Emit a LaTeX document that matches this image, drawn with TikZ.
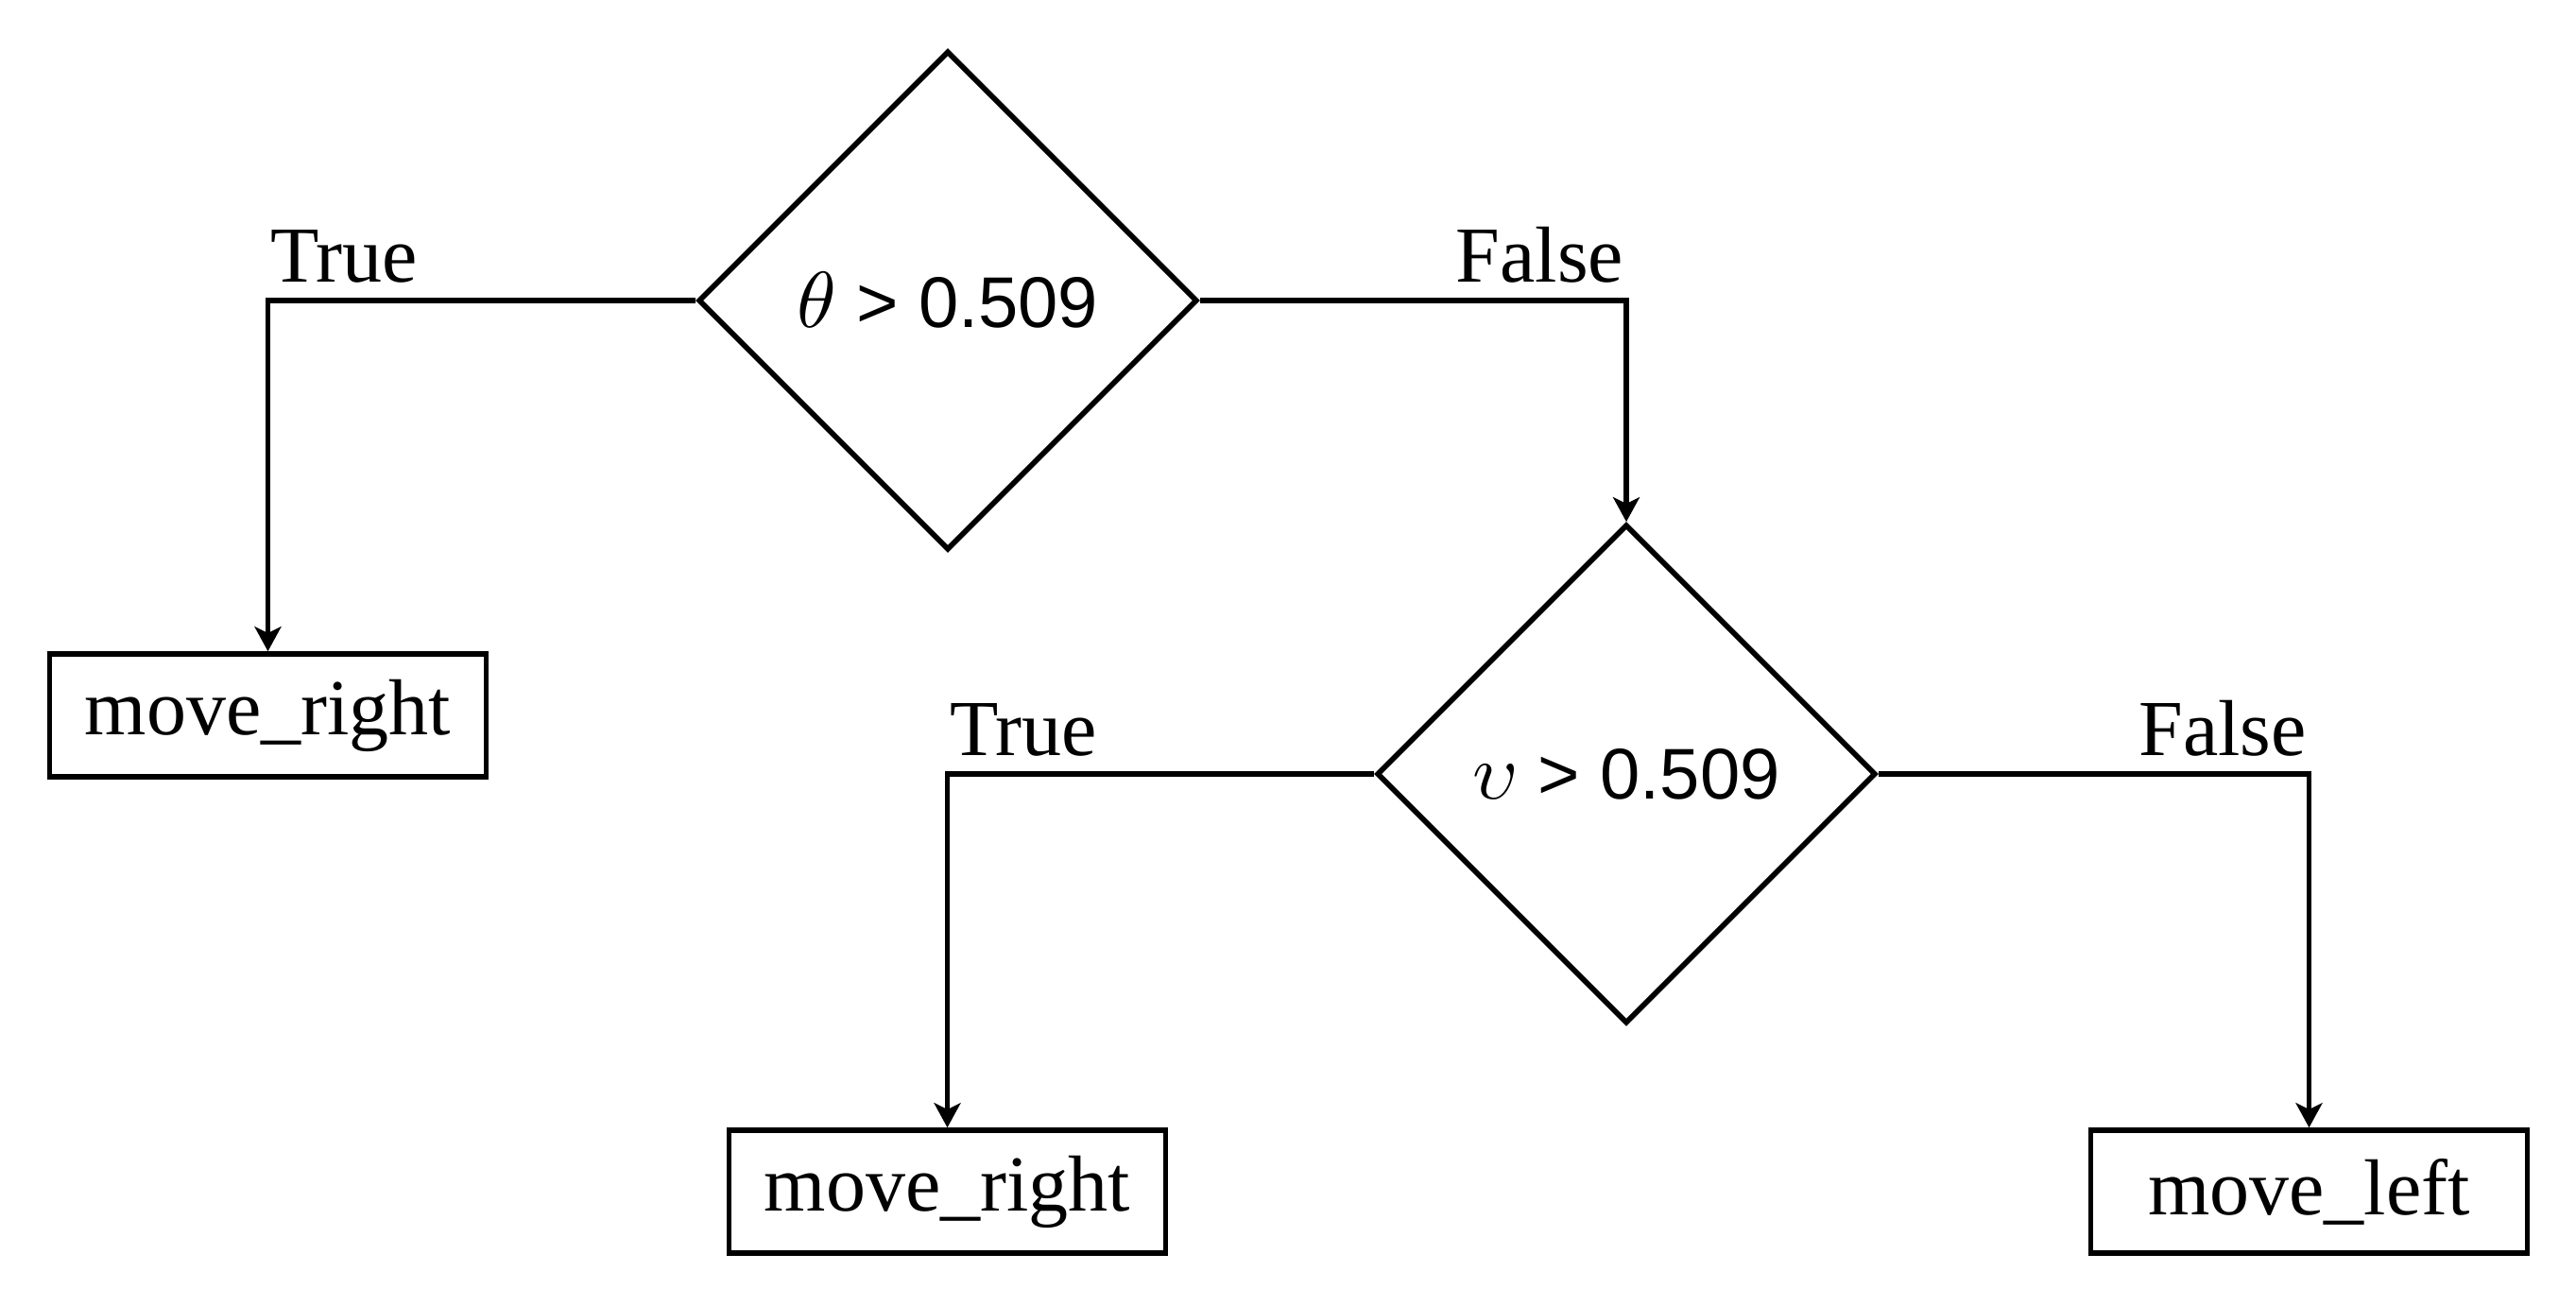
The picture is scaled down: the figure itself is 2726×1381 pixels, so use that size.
\documentclass[tikz,border=0pt]{standalone}
\usepackage{fontspec}
\setmainfont{Liberation Serif}
\newfontfamily\condfont{Liberation Sans}
\usetikzlibrary{shapes.geometric,arrows.meta}
% math letter enlarged to the size of the surrounding sans text
\newcommand{\bigsym}[1]{{\fontsize{10}{12}\selectfont\scalebox{2.1}{$#1$}}}
\begin{document}
\begin{tikzpicture}[x=0.25pt,y=-0.25pt,
  decision/.style={diamond, draw, line width=1.4pt, inner sep=0pt,
    minimum width=132pt, minimum height=132pt,
    font=\condfont\fontsize{19}{22}\selectfont},
  action/.style={rectangle, draw, line width=1.4pt, inner sep=0pt,
    minimum width=115.5pt, minimum height=32.5pt,
    font=\fontsize{21}{25}\selectfont},
  flow/.style={line width=1.4pt,
    -{Stealth[length=6.5pt,width=7pt,inset=1.7pt]}},
  branch/.style={inner sep=0pt, font=\fontsize{21}{25}\selectfont, yshift=4pt}
]
\useasboundingbox (0,0) rectangle (2726,1381);

% decisions
\node[decision] (d1) at (1003,318) {\bigsym{\theta} > 0.509};
\node[decision] (d2) at (1721,819) {\bigsym{\upsilon} > 0.509};

% leaves
\node[action] (b1) at (283.5,757) {move\_right};
\node[action] (b2) at (1002.5,1261) {move\_right};
\node[action] (b3) at (2443.5,1261) {move\_left};

% branches
\draw[flow] (d1.west) -| node[branch, pos=0.5, anchor=south west] {True} (b1.north);
\draw[flow] (d1.east) -| node[branch, pos=0.5, anchor=south east] {False} (d2.north);
\draw[flow] (d2.west) -| node[branch, pos=0.5, anchor=south west] {True} (b2.north);
\draw[flow] (d2.east) -| node[branch, pos=0.5, anchor=south east] {False} (b3.north);
\end{tikzpicture}
\end{document}
